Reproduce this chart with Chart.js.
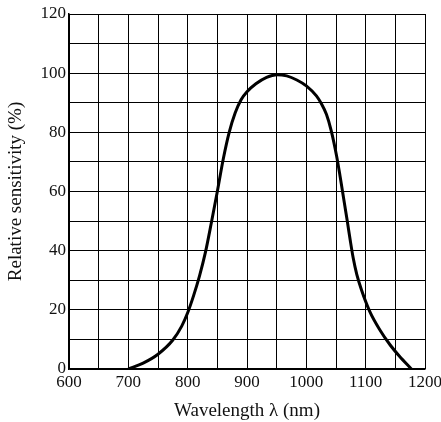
<!DOCTYPE html>
<html>
<head>
<meta charset="utf-8">
<script src="https://cdn.jsdelivr.net/npm/chart.js@4/dist/chart.umd.min.js"></script>
<style>
  html, body { margin: 0; padding: 0; background: #fff; }
  #wrap { width: 441px; height: 422px; }
</style>
</head>
<body>
<div id="wrap"><canvas id="chart" width="441" height="422"></canvas></div>
<script>
// sensitivity curve
const wavelength = [700, 725, 750, 775, 790, 800, 810, 820, 830, 840, 850, 860, 870, 880, 890, 900, 915, 933, 950, 967, 984, 1000, 1017, 1025, 1034, 1042, 1051, 1057, 1061, 1065, 1069, 1074, 1079, 1085, 1093, 1107, 1124, 1141, 1157, 1177];
const sensitivity = [0, 2.0, 5.0, 9.8, 14.5, 19, 24.8, 31.5, 39.5, 49.5, 60, 71, 80, 86.5, 91, 93.7, 96.4, 98.6, 99.5, 99.1, 97.7, 95.7, 92.3, 89.8, 86, 80.5, 72, 65, 60, 55, 50, 43.5, 37.5, 32, 26.7, 19.4, 13.2, 8.2, 4.3, 0];

const xMin = 600, xMax = 1200, xStep = 50;
const yMin = 0, yMax = 120, yStep = 10;
const xTitle = 'Wavelength \u03bb (nm)';
const yTitle = 'Relative sensitivity (%)';

const tickFont = { family: '"Liberation Serif", "DejaVu Serif", serif', size: 17 };
const titleFont = { family: '"Liberation Serif", "DejaVu Serif", serif', size: 19 };

new Chart(document.getElementById('chart'), {
  type: 'line',
  data: {
    datasets: [{
      data: wavelength.map((x, i) => ({ x, y: sensitivity[i] })),
      borderColor: '#000',
      borderWidth: 3,
      pointRadius: 0,
      fill: false,
      cubicInterpolationMode: 'monotone'
    }]
  },
  options: {
    responsive: false,
    animation: false,
    layout: { padding: { left: 0, right: 16, top: 14, bottom: 0 } },
    plugins: { legend: { display: false }, tooltip: { enabled: false } },
    scales: {
      x: {
        type: 'linear', min: xMin, max: xMax,
        afterFit: s => { s.height = 53; s.paddingLeft = 0; s.paddingRight = 0; },
        border: { color: '#000', width: 1.5 },
        grid: { color: '#000', lineWidth: 1, drawTicks: false },
        ticks: {
          stepSize: xStep, padding: 3, color: '#111', font: tickFont, maxRotation: 0, autoSkip: false,
          callback: v => (v % 100 === 0 ? String(v) : '')
        },
        title: { display: true, text: xTitle, color: '#111', font: titleFont, padding: { top: 0, bottom: 0 } }
      },
      y: {
        min: yMin, max: yMax,
        afterFit: s => { s.width = 69; s.paddingTop = 0; s.paddingBottom = 0; },
        border: { color: '#000', width: 1.5 },
        grid: { color: '#000', lineWidth: 1, drawTicks: false },
        ticks: {
          stepSize: yStep, padding: 3, color: '#111', font: tickFont, autoSkip: false,
          callback: v => (v % 20 === 0 ? String(v) : '')
        },
        title: { display: true, text: yTitle, color: '#111', font: titleFont, padding: { top: 5, bottom: 0 } }
      }
    }
  }
});
</script>
</body>
</html>
